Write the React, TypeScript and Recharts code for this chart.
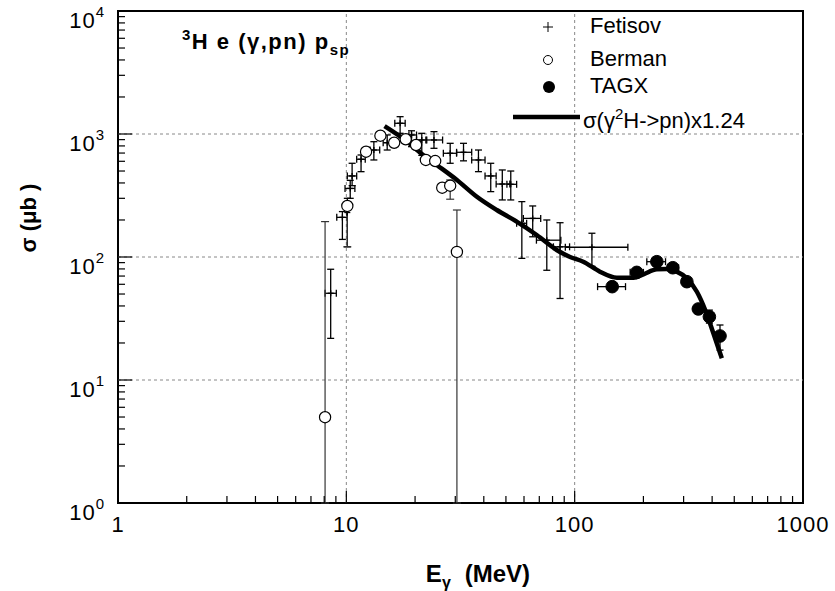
import React from 'react';
import { ComposedChart, XAxis, YAxis, Scatter, Line, ErrorBar, ReferenceLine, ReferenceArea } from 'recharts';

// ---- Fetisov (crosses with error bars) ----
const fetisovE = [8.54, 9.61, 10.1, 10.4, 10.6, 11.6, 13.2, 15.1, 17.2, 19.3, 21.4, 24.2, 28.5, 32.6, 37.9, 42.9, 48.2, 52.5, 58.7, 65.5, 75.5, 86.3, 119];
const fetisovSigma = [50.7, 210, 230, 361, 456, 623, 741, 850, 1222, 982, 894, 894, 697, 710, 615, 456, 392, 390, 188, 206, 137, 121, 120];
const fetisovELow = [8.07, 9.08, 10.1, 9.87, 10.1, 11.1, 12.7, 14.5, 16.3, 18.8, 20.3, 22.3, 26.6, 30.4, 35.4, 40.5, 45.3, 50.5, 55.7, 59.6, 68, 80.7, 91];
const fetisovEHigh = [9.04, 10.1, 10.1, 10.9, 11.1, 12.1, 14.0, 15.8, 18.1, 20.3, 22.5, 26.4, 30.4, 35.4, 40.5, 45.3, 52, 55.7, 61.6, 71, 87, 95, 171];
const fetisovSigmaLow = [21.8, 139, 121, 300, 380, 494, 615, 741, 1013, 789, 670, 765, 578, 605, 494, 340, 291, 291, 97.5, 146, 78, 46, 84];
const fetisovSigmaHigh = [79.5, 234, 300, 420, 578, 675, 866, 982, 1383, 1062, 1013, 1045, 840, 840, 741, 578, 510, 500, 282, 260, 200, 190, 156];

// ---- Berman (open circles) ----
const bermanE = [8.07, 10.1, 12.2, 14.1, 16.2, 18.2, 20.2, 22.3, 24.5, 26.3, 28.5, 30.5];
const bermanSigma = [4.98, 260, 718, 969, 849, 906, 814, 615, 603, 366, 380, 110];
const bermanSigmaLow = [1, 121, 718, 969, 849, 906, 814, 615, 603, 366, 295, 1];
const bermanSigmaHigh = [194, 260, 718, 969, 849, 906, 814, 615, 603, 366, 423, 241];

// ---- TAGX (filled circles) ----
const tagxE = [146, 187, 229, 269, 310, 348, 389, 433];
const tagxSigma = [57.4, 75, 91.6, 81.8, 63, 37.8, 32.7, 22.8];
const tagxELow = [126, 175, 207, 255, 300, 340, 380, 428];
const tagxEHigh = [167, 200, 250, 285, 320, 356, 398, 438];
const tagxSigmaLow = [57.4, 70, 85, 77, 59, 35, 29, 17.5];
const tagxSigmaHigh = [57.4, 80, 99, 87, 67, 41, 37, 28];

// ---- sigma(gamma 2H -> pn) x 1.24 curve ----
const curveE = [14.7, 18.1, 21.7, 24.9, 30.5, 37.3, 45.6, 55.7, 68.2, 83.4, 95.5, 109, 129, 153, 181, 200, 229, 253, 280, 310, 343, 373, 405, 441];
const curveSigma = [1161, 894, 675, 560, 423, 309, 241, 194, 151, 114, 100, 91.6, 76, 67.9, 67.9, 72.3, 79.4, 79.9, 76, 67.1, 52.2, 37.1, 24, 15];

// ---- axes ----
const xDecades = [1, 10, 100, 1000];
const yDecades = [1, 10, 100, 1000, 10000];
const minorMult = [2, 3, 4, 5, 6, 7, 8, 9];
const xGrid = [10, 100];
const yGrid = [10, 100, 1000];

const buildTicks = (decades: number[]) => {
  const out: number[] = [];
  decades.forEach((d, i) => {
    out.push(d);
    if (i < decades.length - 1) minorMult.forEach((m) => out.push(d * m));
  });
  return out;
};
const xTicks = buildTicks(xDecades);
const yTicks = buildTicks(yDecades);

const fetisovData = fetisovE.map((x, i) => ({
  x,
  y: fetisovSigma[i],
  ex: [x - fetisovELow[i], fetisovEHigh[i] - x],
  ey: [fetisovSigma[i] - fetisovSigmaLow[i], fetisovSigmaHigh[i] - fetisovSigma[i]],
}));
const bermanData = bermanE.map((x, i) => ({
  x,
  y: bermanSigma[i],
  ey: [bermanSigma[i] - bermanSigmaLow[i], bermanSigmaHigh[i] - bermanSigma[i]],
}));
const tagxData = tagxE.map((x, i) => ({
  x,
  y: tagxSigma[i],
  ex: [x - tagxELow[i], tagxEHigh[i] - x],
  ey: [tagxSigma[i] - tagxSigmaLow[i], tagxSigmaHigh[i] - tagxSigma[i]],
}));
const curveData = curveE.map((x, i) => ({ x, y: curveSigma[i] }));

const FONT = '"Liberation Sans", Arial, Helvetica, sans-serif';

const XTick = (props: any) => {
  const { x, y, payload } = props;
  const v = payload.value;
  const major = xDecades.includes(v);
  return (
    <g>
      <line x1={x} x2={x} y1={y} y2={y - (major ? 12 : 7)} stroke="#000" strokeWidth={1.2} />
      {major && (
        <text x={x} y={y + 29} textAnchor="middle" fontSize={22} fontFamily={FONT} fill="#000" letterSpacing={1}>
          {String(v)}
        </text>
      )}
    </g>
  );
};

const YTick = (props: any) => {
  const { x, y, payload } = props;
  const v = payload.value;
  const exp = yDecades.indexOf(v);
  const major = exp >= 0;
  return (
    <g>
      <line x1={x} x2={x + (major ? 14 : 7)} y1={y} y2={y} stroke="#000" strokeWidth={1.2} />
      {major && (
        <text x={x - 14} y={y + 17} textAnchor="end" fontSize={22} fontFamily={FONT} fill="#000">
          <tspan letterSpacing={1}>10</tspan>
          <tspan dy={-11} fontSize={15}>{String(exp)}</tspan>
        </text>
      )}
    </g>
  );
};

const Cross = (props: any) => {
  const { cx, cy } = props;
  if (cx == null || cy == null) return <g />;
  return (
    <g>
      <line x1={cx - 3} x2={cx + 3} y1={cy} y2={cy} stroke="#000" strokeWidth={1.3} />
      <line x1={cx} x2={cx} y1={cy - 3} y2={cy + 3} stroke="#000" strokeWidth={1.3} />
    </g>
  );
};
const OpenCircle = (props: any) => {
  const { cx, cy } = props;
  if (cx == null || cy == null) return <g />;
  return <circle cx={cx} cy={cy} r={5.6} fill="#fff" stroke="#000" strokeWidth={1.2} />;
};
const FilledCircle = (props: any) => {
  const { cx, cy } = props;
  if (cx == null || cy == null) return <g />;
  return <circle cx={cx} cy={cy} r={6.3} fill="#000" stroke="#000" strokeWidth={1} />;
};

export default function App() {
  return (
    <div style={{ position: 'absolute', left: 0, top: 0, width: 835, height: 591, background: '#fff' }}>
      <ComposedChart width={835} height={591} margin={{ top: 11, right: 32, bottom: 0, left: 0 }}>
        <XAxis
          dataKey="x"
          type="number"
          scale="log"
          domain={[1, 1000]}
          allowDataOverflow
          ticks={xTicks}
          interval={0}
          tick={<XTick />}
          tickSize={0}
          tickMargin={0}
          tickLine={false}
          axisLine={false}
          height={88}
        />
        <YAxis
          dataKey="y"
          type="number"
          scale="log"
          domain={[1, 10000]}
          allowDataOverflow
          ticks={yTicks}
          interval={0}
          tick={<YTick />}
          tickSize={0}
          tickMargin={0}
          tickLine={false}
          axisLine={false}
          width={118}
        />
        {xGrid.map((g) => (
          <ReferenceLine key={'vx' + g} x={g} stroke="#888" strokeDasharray="3 3" strokeWidth={1} />
        ))}
        {yGrid.map((g) => (
          <ReferenceLine key={'hy' + g} y={g} stroke="#888" strokeDasharray="3 3" strokeWidth={1} />
        ))}
        <Line
          data={curveData}
          dataKey="y"
          type="monotone"
          stroke="#000"
          strokeWidth={4.5}
          dot={false}
          activeDot={false}
          isAnimationActive={false}
        />
        <Scatter data={fetisovData} dataKey="y" shape={<Cross />} isAnimationActive={false}>
          <ErrorBar dataKey="ex" direction="x" width={3.5} stroke="#000" strokeWidth={1.3} />
          <ErrorBar dataKey="ey" direction="y" width={3.5} stroke="#000" strokeWidth={1.3} />
        </Scatter>
        <Scatter data={bermanData} dataKey="y" shape={<OpenCircle />} isAnimationActive={false}>
          <ErrorBar dataKey="ey" direction="y" width={4} stroke="#333" strokeWidth={1.2} />
        </Scatter>
        <Scatter data={tagxData} dataKey="y" shape={<FilledCircle />} isAnimationActive={false}>
          <ErrorBar dataKey="ex" direction="x" width={3.5} stroke="#000" strokeWidth={1.3} />
          <ErrorBar dataKey="ey" direction="y" width={3.5} stroke="#000" strokeWidth={1.3} />
        </Scatter>
        <ReferenceArea x1={1} x2={1000} y1={1} y2={10000} fill="none" fillOpacity={0} stroke="#000" strokeWidth={2} />
      </ComposedChart>
      <svg width={835} height={591} style={{ position: 'absolute', left: 0, top: 0, pointerEvents: 'none' }} fontFamily={FONT}>
        {/* title */}
        <text x={182} y={49} fontSize={22} fontWeight="bold" fill="#000" letterSpacing={1.5}>
          <tspan fontSize={15} dy={-9}>3</tspan>
          <tspan dy={9}>H e (γ,pn) p</tspan>
          <tspan fontSize={15} dy={6}>sp</tspan>
        </text>
        {/* legend */}
        <line x1={543} x2={553} y1={27} y2={27} stroke="#000" strokeWidth={1} />
        <line x1={548} x2={548} y1={22} y2={32} stroke="#000" strokeWidth={1} />
        <text x={590} y={33} fontSize={22} fill="#000">Fetisov</text>
        <circle cx={548} cy={60} r={4.5} fill="#fff" stroke="#000" strokeWidth={1} />
        <text x={590} y={66} fontSize={22} fill="#000">Berman</text>
        <circle cx={549} cy={87} r={6} fill="#000" />
        <text x={590} y={93} fontSize={22} fill="#000">TAGX</text>
        <line x1={513} x2={580} y1={117} y2={117} stroke="#000" strokeWidth={4.5} />
        <text x={583} y={128} fontSize={22} fill="#000">
          σ(γ<tspan dy={-9} fontSize={15}>2</tspan><tspan dy={9}>H-&gt;pn)x1.24</tspan>
        </text>
        {/* axis titles */}
        <text transform="translate(36,218) rotate(-90)" textAnchor="middle" fontSize={22} fontWeight="bold" fill="#000">
          σ (μb )
        </text>
        <text x={478} y={582} textAnchor="middle" fontSize={24} fontWeight="bold" fill="#000">
          E<tspan fontSize={16} dy={6}>γ</tspan>
          <tspan dy={-6} dx={14}>(MeV)</tspan>
        </text>
      </svg>
    </div>
  );
}
